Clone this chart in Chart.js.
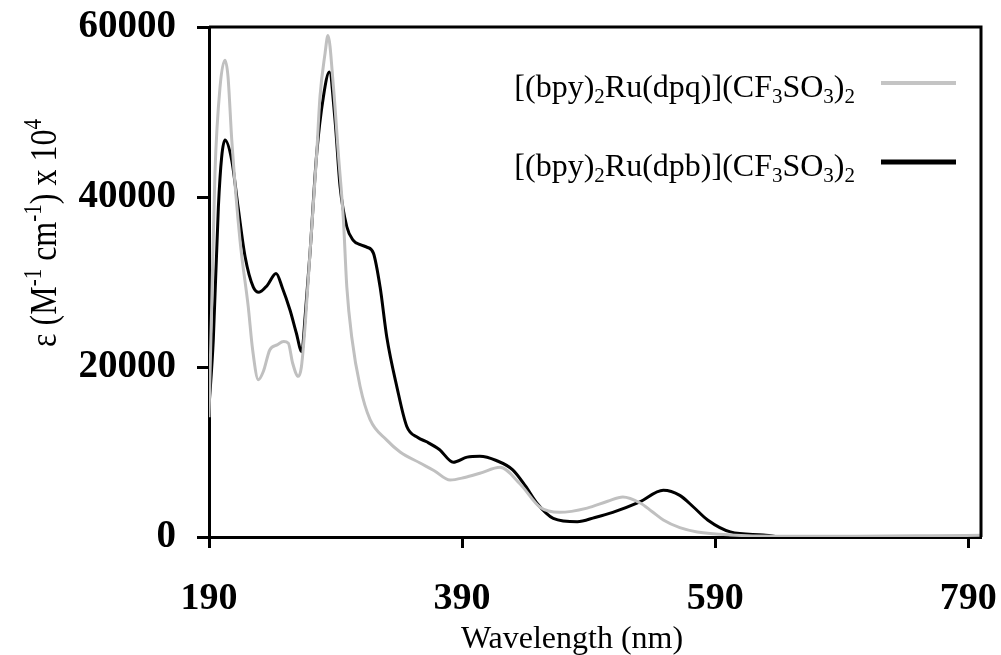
<!DOCTYPE html>
<html>
<head>
<meta charset="utf-8">
<script src="https://cdn.jsdelivr.net/npm/chart.js@4.4.0/dist/chart.umd.min.js"></script>
<style>
  html, body { margin: 0; padding: 0; background: #fff; }
  #wrap { width: 1001px; height: 655px; }
</style>
</head>
<body>
<div id="wrap"><canvas id="spectrumChart" width="1001" height="655"></canvas></div>
<script>
// Absorption spectra (wavelength in nm, epsilon)
const dpqWavelength = [190, 192.1, 194.7, 198.7, 202.6, 205, 208, 214.5, 221, 224.5, 229, 233, 238, 243.8, 249, 252.7, 256, 260.6,
  263, 266, 269.8, 275.1, 277.7, 281.7, 284, 288.3, 292.2, 296.2, 298.9, 302.8, 309.4, 317.3, 330.5, 341, 356.8, 368, 380.5, 392, 404,
  420, 436, 451.6, 467, 488.8, 505, 517, 530.7, 540, 549, 562, 575.8, 602, 640, 700, 760, 800];
const dpqValues = [14100, 27100, 42800, 52900, 56100, 54200, 46700, 34900, 27100, 22000, 18500, 19500, 22000, 22600, 23000, 22800, 20500, 18900,
  20000, 25000, 33400, 45100, 51800, 56900, 59000, 53000, 45100, 37300, 29400, 23500, 17700, 13800, 11400, 10000, 8700, 7800, 6700, 7000, 7500,
  8200, 6200, 3500, 2900, 3400, 4200, 4700, 4000, 3000, 2000, 1100, 600, 240, 100, 100, 150, 200];

const dpbWavelength = [190, 193.4, 197.4, 200, 202.6, 208, 213, 218.5, 225, 229.5, 236, 243, 248, 254, 259, 263.3,
  266, 269.8, 275.1, 280.4, 285.1, 289.6, 293.6, 298.9, 304, 309.5, 314.7, 319.9, 325.2, 330.5, 338.4, 346.3, 355, 362, 372, 383, 394, 404,
  417, 430, 440, 449, 462, 481, 495, 509, 530, 549, 562, 573, 584, 602, 628, 655, 680, 720, 760, 800];
const dpbValues = [15300, 23200, 38800, 44700, 46700, 44300, 38800, 33000, 29400, 28800, 29600, 31000, 29300, 26700, 24000, 21800,
  26000, 33400, 45100, 51800, 54700, 49000, 41200, 36500, 34900, 34400, 34100, 33400, 29400, 23500, 17700, 13000, 11700, 11200, 10300, 8800, 9400, 9500,
  9000, 7900, 6000, 4000, 2200, 1800, 2300, 2900, 4100, 5500, 4900, 3500, 2000, 600, 240, -200, 50, 0, 0, 50];

const xTicks = [190, 390, 590, 790];
const yTicks = [0, 20000, 40000, 60000];

const seriesNames = [
  [['[(bpy)', ''], ['2', 'sub'], ['Ru(dpq)](CF', ''], ['3', 'sub'], ['SO', ''], ['3', 'sub'], [')', ''], ['2', 'sub']],
  [['[(bpy)', ''], ['2', 'sub'], ['Ru(dpb)](CF', ''], ['3', 'sub'], ['SO', ''], ['3', 'sub'], [')', ''], ['2', 'sub']]
];
const yTitleParts = [['\u03b5 (M', ''], ['-1', 'sup'], [' cm', ''], ['-1', 'sup'], [') x 10', ''], ['4', 'sup']];
const xTitle = 'Wavelength (nm)';

const SERIF = '"Liberation Serif", "Times New Roman", serif';

function toPoints(xs, ys) {
  return xs.map((x, i) => ({ x: x, y: ys[i] }));
}

// draws text with sub/superscripts
function drawRich(ctx, parts, x, y, size, align) {
  const small = Math.round(size * 0.65);
  let total = 0;
  parts.forEach(p => {
    ctx.font = (p[1] ? small : size) + 'px ' + SERIF;
    total += ctx.measureText(p[0]).width;
  });
  let cx = align === 'right' ? x - total : x - total / 2;
  ctx.textBaseline = 'alphabetic';
  ctx.textAlign = 'left';
  parts.forEach(p => {
    ctx.font = (p[1] ? small : size) + 'px ' + SERIF;
    let dy = 0;
    if (p[1] === 'sub') dy = size * 0.2;
    if (p[1] === 'sup') dy = -size * 0.38;
    ctx.fillText(p[0], cx, y + dy);
    cx += ctx.measureText(p[0]).width;
  });
}

const decorPlugin = {
  id: 'decor',
  afterDraw(chart) {
    const ctx = chart.ctx;
    const a = chart.chartArea;
    ctx.save();
    // frame top and right
    ctx.strokeStyle = '#000';
    ctx.lineWidth = 3;
    ctx.beginPath();
    ctx.moveTo(a.left, a.top);
    ctx.lineTo(a.right, a.top);
    ctx.lineTo(a.right, a.bottom);
    ctx.stroke();

    // legend
    ctx.fillStyle = '#000';
    const rows = [83, 162];
    const colors = ['#c4c4c4', '#000000'];
    rows.forEach((ry, i) => {
      drawRich(ctx, seriesNames[i], 855, ry + 14, 32, 'right');
      ctx.strokeStyle = colors[i];
      ctx.lineWidth = i === 0 ? 4 : 5;
      ctx.beginPath();
      ctx.moveTo(881, ry);
      ctx.lineTo(956, ry);
      ctx.stroke();
    });

    // x axis title
    ctx.font = '32px ' + SERIF;
    ctx.textAlign = 'center';
    ctx.textBaseline = 'alphabetic';
    ctx.fillText(xTitle, 572, 648);

    // y axis title
    ctx.translate(56, 233);
    ctx.rotate(-Math.PI / 2);
    ctx.scale(1, 1.2);
    drawRich(ctx, yTitleParts, 0, 0, 32, 'center');
    ctx.restore();
  }
};

const ctx = document.getElementById('spectrumChart').getContext('2d');
new Chart(ctx, {
  type: 'line',
  data: {
    datasets: [
      {
        label: 'dpq',
        data: toPoints(dpqWavelength, dpqValues),
        borderColor: '#c0c0c0',
        borderWidth: 3,
        pointRadius: 0,
        tension: 0.4,
        cubicInterpolationMode: 'monotone'
      },
      {
        label: 'dpb',
        data: toPoints(dpbWavelength, dpbValues),
        borderColor: '#000000',
        borderWidth: 3,
        pointRadius: 0,
        tension: 0.4,
        cubicInterpolationMode: 'monotone'
      }
    ]
  },
  options: {
    responsive: false,
    devicePixelRatio: 1,
    animation: false,
    layout: { padding: { top: 27, right: 20, left: 0, bottom: 0 } },
    plugins: { legend: { display: false }, tooltip: { enabled: false } },
    scales: {
      x: {
        type: 'linear',
        min: 190,
        max: 800,
        afterBuildTicks: s => { s.ticks = xTicks.map(v => ({ value: v })); },
        afterFit: s => { s.height = 118; s.paddingLeft = 0; s.paddingRight = 0; },
        border: { display: true, color: '#000', width: 3 },
        grid: { drawOnChartArea: false, drawTicks: true, tickLength: 11, tickWidth: 3, tickColor: '#000' },
        ticks: {
          color: '#000',
          padding: 28,
          maxRotation: 0,
          font: { family: SERIF, size: 38, weight: 'bold' },
          callback: v => String(v)
        }
      },
      y: {
        min: 0,
        max: 60000,
        afterBuildTicks: s => { s.ticks = yTicks.map(v => ({ value: v })); },
        afterFit: s => { s.width = 209; s.paddingTop = 0; s.paddingBottom = 0; },
        border: { display: true, color: '#000', width: 3 },
        grid: { drawOnChartArea: false, drawTicks: true, tickLength: 12, tickWidth: 3, tickColor: '#000' },
        ticks: {
          color: '#000',
          padding: 21,
          font: { family: SERIF, size: 39, weight: 'bold' },
          callback: v => String(v)
        }
      }
    }
  },
  plugins: [decorPlugin]
});
</script>
</body>
</html>
